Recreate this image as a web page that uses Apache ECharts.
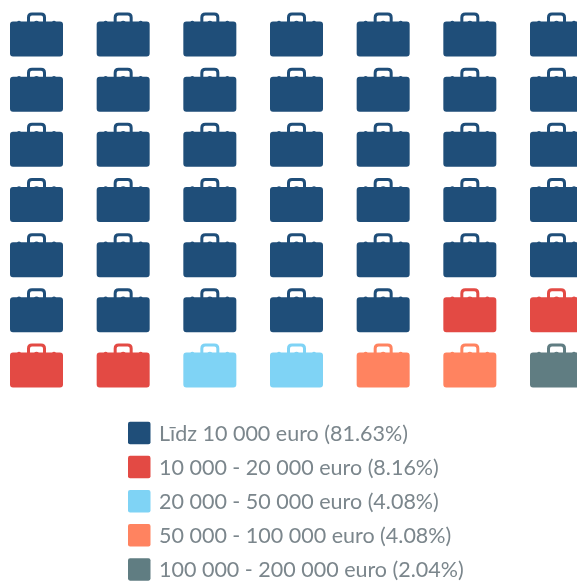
<!DOCTYPE html>
<html>
<head>
<meta charset="utf-8">
<style>html,body{margin:0;padding:0;background:#fff;overflow:hidden}#c{width:577px;height:581px}</style>
<script src="https://cdn.jsdelivr.net/npm/echarts@6/dist/echarts.min.js"></script>
</head>
<body>
<div id="c"></div>
<script>
const categories = ['Līdz 10 000 euro (81.63%)','10 000 - 20 000 euro (8.16%)','20 000 - 50 000 euro (4.08%)','50 000 - 100 000 euro (4.08%)','100 000 - 200 000 euro (2.04%)'];
const counts = [40, 4, 2, 2, 1];
const colors = ['#1f4e79','#e34a44','#7fd3f5','#ff8360','#607d82'];
const columns = 7;
const rows = 7;
const briefcase = 'path://M3,9 L7,9 Q9,7.5 11,9 L17,9 L17,5 Q17,0 22,0 L31,0 Q36,0 36,5 L36,9 L42,9 Q44,7.5 46,9 L50,9 Q53,9 53,12 L53,41 Q53,44 50,44 L3,44 Q0,44 0,41 L0,12 Q0,9 3,9 Z M20,9 L24,9 Q26.5,7.5 29,9 L33,9 L33,5 Q33,3 31,3 L22,3 Q20,3 20,5 Z';

let n = 0;
const series = categories.map((name, k) => {
  const data = [];
  for (let i = 0; i < counts[k]; i++, n++) data.push([n % columns, Math.floor(n / columns)]);
  return {
    name, type: 'scatter', data, clip: false, silent: true,
    symbol: briefcase, symbolSize: [53, 44], symbolKeepAspect: false,
    itemStyle: { color: colors[k], opacity: 1 }
  };
});

const chart = echarts.init(document.getElementById('c'), null, { renderer: 'canvas' });
chart.setOption({
  animation: false,
  backgroundColor: '#fff',
  color: colors,
  grid: { left: 36.5, top: 34.5, width: 520, height: 331 },
  xAxis: { type: 'value', min: 0, max: columns - 1, show: false },
  yAxis: { type: 'value', min: 0, max: rows - 1, inverse: true, show: false },
  legend: {
    data: categories, orient: 'vertical', left: 128, top: 421, height: 300,
    padding: 0, itemWidth: 22.5, itemHeight: 23, itemGap: 10.1,
    icon: 'path://M2,0 L20,0 Q22,0 22,2 L22,20 Q22,22 20,22 L2,22 Q0,22 0,20 L0,2 Q0,0 2,0 Z',
    selectedMode: false,
    formatter: '{t|{name}}',
    textStyle: {
      rich: { t: { fontFamily: 'Lato', fontSize: 21.5, color: '#7b868c', lineHeight: 26, padding: [2, 0, 0, 3.5] } }
    }
  },
  series
});
</script>
</body>
</html>
